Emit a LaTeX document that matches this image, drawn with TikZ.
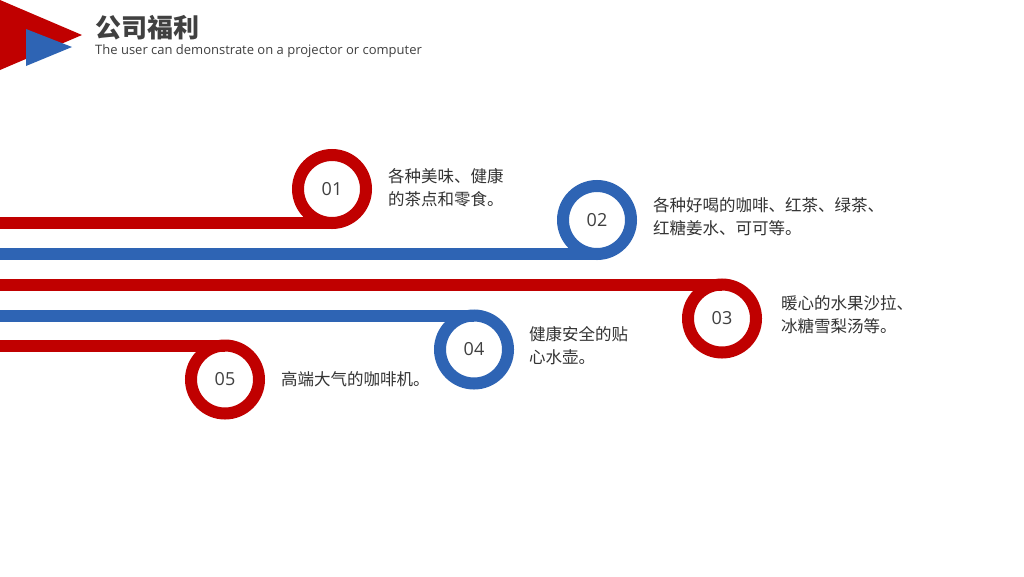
\documentclass[tikz,border=0pt]{standalone}
\usepackage{fontspec}
\setmainfont{Open Sans}
\newfontfamily\cjk{Noto Sans CJK SC}
\usetikzlibrary{positioning}
\definecolor{rdc}{HTML}{C00000}
\definecolor{blc}{HTML}{2E64B4}
\definecolor{txtc}{HTML}{333333}
\definecolor{numc}{HTML}{404040}

\begin{document}
\begin{tikzpicture}[x=1pt, y=-1pt,
    ring/.style={circle, draw=#1, line width=12pt, minimum size=68pt, inner sep=0pt, outer sep=0pt,
        fill=white, text=numc, font=\fontsize{18}{18}\selectfont},
    band/.style={draw=#1, line width=12pt},
    note/.style={inner sep=0pt, align=left, text=txtc, font=\cjk\fontsize{16.5}{23}\selectfont}]
    \useasboundingbox[fill=white] (0,0) rectangle (1024,576);

    % Header
    \fill[rdc] (0,0) -- (0,70) -- (82,35) -- cycle;
    \fill[blc] (26,29) -- (26,66) -- (72,47) -- cycle;
    \node[anchor=west, inner sep=0pt, text=numc, font=\cjk\bfseries\fontsize{26}{26}\selectfont] (title) at (95,28) {公司福利};
    \node[anchor=west, inner sep=0pt, text=numc, font=\fontsize{13}{13}\selectfont] (subtitle) at (95,51) {The user can demonstrate on a projector or computer};

    % Band start points
    \coordinate (s1) at (0,223);
    \coordinate (s2) at (0,254);
    \coordinate (s3) at (0,284.5);
    \coordinate (s4) at (0,315.5);
    \coordinate (s5) at (0,345.5);

    % Rings
    \node[ring=rdc] (c1) at (332,189) {01};
    \node[ring=blc] (c2) at (597,220) {02};
    \node[ring=rdc] (c3) at (722,318.5) {03};
    \node[ring=blc] (c4) at (474,349.5) {04};
    \node[ring=rdc] (c5) at (225,379.5) {05};

    % Bands
    \draw[band=rdc] (s1) -- (c1.south);
    \draw[band=blc] (s2) -- (c2.south);
    \draw[band=rdc] (s3) -- (c3.north);
    \draw[band=blc] (s4) -- (c4.north);
    \draw[band=rdc] (s5) -- (c5.north);

    % Notes
    \node[note, right=22pt of c1, yshift=1.5pt] (t1) {各种美味、健康\\的茶点和零食。};
    \node[note, right=22pt of c2, yshift=3.5pt] (t2) {各种好喝的咖啡、红茶、绿茶、\\红糖姜水、可可等。};
    \node[note, right=25pt of c3, yshift=4pt] (t3) {暖心的水果沙拉、\\冰糖雪梨汤等。};
    \node[note, right=21pt of c4, yshift=4pt] (t4) {健康安全的贴\\心水壶。};
    \node[note, right=22pt of c5] (t5) {高端大气的咖啡机。};
\end{tikzpicture}
\end{document}
